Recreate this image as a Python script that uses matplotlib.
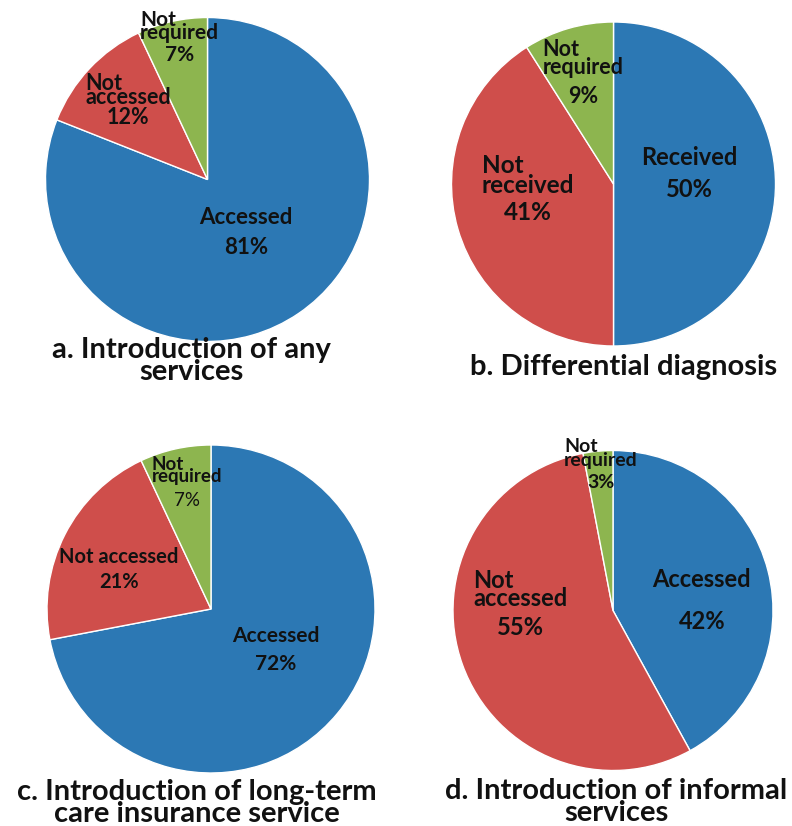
import numpy as np
import matplotlib.pyplot as plt

plt.rcParams['font.family'] = ['Lato', 'DejaVu Sans']
plt.rcParams['font.weight'] = 'bold'

# data
a_labels = ['Accessed', 'Not\naccessed', 'Not\nrequired']
a_values = [81, 12, 7]
b_labels = ['Received', 'Not\nreceived', 'Not\nrequired']
b_values = [50, 41, 9]
c_labels = ['Accessed', 'Not accessed', 'Not\nrequired']
c_values = [72, 21, 7]
d_labels = ['Accessed', 'Not\naccessed', 'Not\nrequired']
d_values = [42, 55, 3]
titles = ['a. Introduction of any\nservices',
          'b. Differential diagnosis',
          'c. Introduction of long-term\ncare insurance service',
          'd. Introduction of informal\nservices']

colors = ['#2C78B4', '#CF4E4B', '#8DB54F']
W, H = 792, 826

# layout per panel: pie centre/radius (px), distance of the % text from centre,
# nudge, font size, line spacing of the name, gap name->% (px), title position
panels = [
    dict(lab=a_labels, val=a_values, c=(207.5, 179.5), r=162,
         dist=[0.45, 0.62, 0.79], nud=[(-0.015, -0.045), (-0.039, -0.044), (0, 0)],
         fs=[16, 15.5, 15], ls=[1, 0.58, 0.57], gap=[30, 21, 22],
         pw=['bold', 'bold', 'bold'], title=(191, 361)),
    dict(lab=b_labels, val=b_values, c=(613.5, 184), r=162,
         dist=[0.47, 0.55, 0.56], nud=[(0, -0.037), (0, -0.02), (-0.032, 0)],
         fs=[17, 17.5, 15.5], ls=[1, 0.83, 0.81], gap=[33, 27, 30],
         pw=['bold', 'bold', 'bold'], title=(624, 367)),
    dict(lab=c_labels, val=c_values, c=(211, 609), r=164,
         dist=[0.51, 0.60, 0.68], nud=[(0, -0.01), (-0.026, -0.108), (0, 0)],
         fs=[15, 14.5, 13.5], ls=[1, 1, 0.59], gap=[28, 25, 25],
         pw=['bold', 'bold', 'normal'], title=(197, 803)),
    dict(lab=d_labels, val=d_values, c=(613, 610.5), r=160,
         dist=[0.56, 0.60, 0.80], nud=[(0.013, -0.211), (-0.016, 0.094), (0, 0.006)],
         fs=[17, 17, 14], ls=[1, 0.70, 0.80], gap=[43, 30, 23],
         pw=['bold', 'bold', 'bold'], title=(616, 802)),
]

fig = plt.figure(figsize=(W / 100, H / 100), dpi=100)

for i, p in enumerate(panels):
    cx, cy = p['c']
    r = p['r']
    ax = fig.add_axes([(cx - r) / W, 1 - (cy + r) / H, 2 * r / W, 2 * r / H])
    wedges, _ = ax.pie(p['val'], colors=colors, startangle=90, counterclock=False,
                       radius=1, wedgeprops=dict(edgecolor='white', linewidth=1))
    ax.set_xlim(-1, 1)
    ax.set_ylim(-1, 1)
    ax.set_aspect('equal')
    ax.axis('off')
    for j, w in enumerate(wedges):
        th = np.deg2rad((w.theta1 + w.theta2) / 2)
        x = p['dist'][j] * np.cos(th) + p['nud'][j][0]
        y = p['dist'][j] * np.sin(th) + p['nud'][j][1]
        fs = p['fs'][j]
        ax.text(x, y, '%d%%' % p['val'][j], ha='center', va='center', fontsize=fs,
                fontweight=p['pw'][j], color='#111111')
        ax.annotate(p['lab'][j], (x, y), xytext=(0, p['gap'][j] * 0.72 - 0.5 * fs),
                    textcoords='offset points', ha='center', va='bottom',
                    multialignment='left', fontsize=fs, fontweight='bold',
                    linespacing=p['ls'][j], color='#111111')
    tx, ty = p['title']
    fig.text(tx / W, 1 - ty / H, titles[i], ha='center', va='center',
             fontsize=21, fontweight='bold', linespacing=0.85, color='#111111')

fig.savefig('out.png', dpi=100)
